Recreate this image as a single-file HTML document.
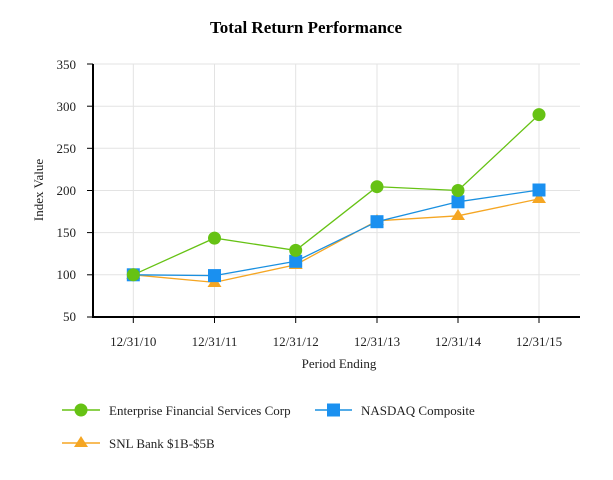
<!DOCTYPE html><html><head><style>body{margin:0;background:#fff}svg{display:block;font-family:"Liberation Serif",serif}</style></head><body>
<svg width="613" height="480" xmlns="http://www.w3.org/2000/svg">
<text x="306" y="33" text-anchor="middle" font-size="17" font-weight="bold">Total Return Performance</text>
<g stroke="#e3e3e3" stroke-width="1">
<line x1="93" y1="64" x2="580" y2="64"/><line x1="93" y1="106.2" x2="580" y2="106.2"/><line x1="93" y1="148.3" x2="580" y2="148.3"/><line x1="93" y1="190.5" x2="580" y2="190.5"/><line x1="93" y1="232.6" x2="580" y2="232.6"/><line x1="93" y1="274.8" x2="580" y2="274.8"/>
<line x1="133.3" y1="64" x2="133.3" y2="317"/><line x1="214.5" y1="64" x2="214.5" y2="317"/><line x1="295.7" y1="64" x2="295.7" y2="317"/><line x1="377" y1="64" x2="377" y2="317"/><line x1="458" y1="64" x2="458" y2="317"/><line x1="539" y1="64" x2="539" y2="317"/>
</g>
<g stroke="#000" stroke-width="2"><line x1="93" y1="64" x2="93" y2="318"/><line x1="92" y1="317" x2="580" y2="317"/></g>
<g stroke="#000" stroke-width="1"><line x1="87" y1="64" x2="93" y2="64"/><line x1="87" y1="106.2" x2="93" y2="106.2"/><line x1="87" y1="148.3" x2="93" y2="148.3"/><line x1="87" y1="190.5" x2="93" y2="190.5"/><line x1="87" y1="232.6" x2="93" y2="232.6"/><line x1="87" y1="274.8" x2="93" y2="274.8"/><line x1="87" y1="317" x2="93" y2="317"/>
<line x1="133.3" y1="317" x2="133.3" y2="323"/><line x1="214.5" y1="317" x2="214.5" y2="323"/><line x1="295.7" y1="317" x2="295.7" y2="323"/><line x1="377" y1="317" x2="377" y2="323"/><line x1="458" y1="317" x2="458" y2="323"/><line x1="539" y1="317" x2="539" y2="323"/></g>
<g font-size="13" text-anchor="end" fill="#222"><text x="76" y="69">350</text><text x="76" y="111">300</text><text x="76" y="153">250</text><text x="76" y="195">200</text><text x="76" y="237">150</text><text x="76" y="279">100</text><text x="76" y="321">50</text></g>
<g font-size="13" text-anchor="middle" fill="#222"><text x="133.3" y="346">12/31/10</text><text x="214.5" y="346">12/31/11</text><text x="295.7" y="346">12/31/12</text><text x="377" y="346">12/31/13</text><text x="458" y="346">12/31/14</text><text x="539" y="346">12/31/15</text>
<text x="339" y="368">Period Ending</text>
<text transform="translate(43,190) rotate(-90)">Index Value</text></g>
<polyline fill="none" stroke="#f5a623" stroke-width="1.3" points="133.3,274.8 214.5,282.4 295.7,264.7 377,220.8 458,215.8 539,198.9"/>
<polyline fill="none" stroke="#1a90e0" stroke-width="1.3" points="133.3,274.8 214.5,275.6 295.7,261.3 377,221.7 458,201.8 539,190"/>
<polyline fill="none" stroke="#66c214" stroke-width="1.3" points="133.3,274.8 214.5,238.1 295.7,250.4 377,186.7 458,190.5 539,114.6"/>
<g fill="#f5a623"><path d="M133.3,268l7,11h-14z"/><path d="M214.5,276l7,11h-14z"/><path d="M295.7,258l7,11h-14z"/><path d="M377,214l7,11h-14z"/><path d="M458,209l7,11h-14z"/><path d="M539,192l7,11h-14z"/></g>
<g fill="#1a90f0"><rect x="126.8" y="268.3" width="13" height="13"/><rect x="208" y="269.1" width="13" height="13"/><rect x="289.2" y="254.8" width="13" height="13"/><rect x="370.5" y="215.2" width="13" height="13"/><rect x="451.5" y="195.3" width="13" height="13"/><rect x="532.5" y="183.5" width="13" height="13"/></g>
<g fill="#66c214"><circle cx="133.3" cy="274.8" r="6.5"/><circle cx="214.5" cy="238.1" r="6.5"/><circle cx="295.7" cy="250.4" r="6.5"/><circle cx="377" cy="186.7" r="6.5"/><circle cx="458" cy="190.5" r="6.5"/><circle cx="539" cy="114.6" r="6.5"/></g>
<line x1="62" y1="410" x2="100" y2="410" stroke="#66c214" stroke-width="1.5"/><circle cx="81" cy="410" r="6.5" fill="#66c214"/>
<text x="109" y="415" font-size="13" fill="#222">Enterprise Financial Services Corp</text>
<line x1="315" y1="410" x2="352" y2="410" stroke="#1a90e0" stroke-width="1.5"/><rect x="327" y="403.5" width="13" height="13" fill="#1a90f0"/>
<text x="361" y="415" font-size="13" fill="#222">NASDAQ Composite</text>
<line x1="62" y1="443" x2="100" y2="443" stroke="#f5a623" stroke-width="1.5"/><path d="M81,436l7,11h-14z" fill="#f5a623"/>
<text x="109" y="448" font-size="13" fill="#222">SNL Bank $1B-$5B</text>
</svg></body></html>
